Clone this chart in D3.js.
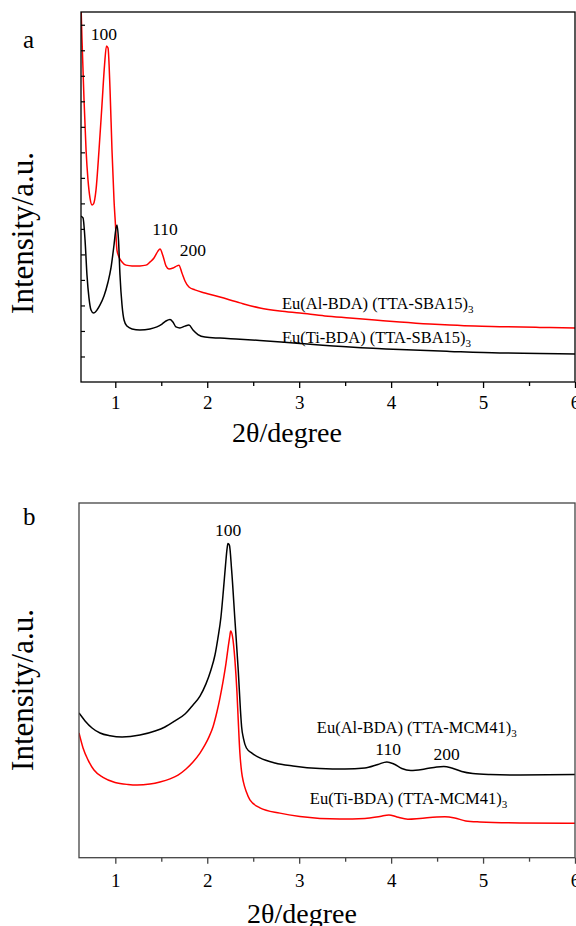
<!DOCTYPE html>
<html>
<head>
<meta charset="utf-8">
<script src="https://cdn.jsdelivr.net/npm/d3@7"></script>
<style>
  html, body { margin: 0; padding: 0; background: #fff; }
  svg { display: block; }
  text { font-family: "Liberation Serif", "Times New Roman", Times, serif; fill: #000; }
</style>
</head>
<body>
<svg id="chart" width="576" height="926"></svg>
<script>
// ---------- (a) SBA-15 hybrids: small-angle XRD ----------
const sbaAlTheta = [0.627, 0.638, 0.660, 0.682, 0.703, 0.725, 0.747, 0.763, 0.790, 0.823, 0.855, 0.883, 0.904, 0.921, 0.943, 0.964, 0.986, 1.002, 1.018, 1.040, 1.073, 1.116, 1.182, 1.268, 1.334, 1.377, 1.421, 1.464, 1.486, 1.519, 1.551, 1.584, 1.628, 1.671, 1.692, 1.725, 1.758, 1.801, 1.866, 1.975, 2.138, 2.356, 2.573, 2.790, 3.008, 3.279, 3.551, 3.823, 4.095, 4.421, 4.638, 4.910, 5.181, 5.616, 6.000];
const sbaAlCounts = [1477, 1340, 1105, 909, 792, 721, 694, 698, 752, 909, 1085, 1242, 1317, 1309, 1144, 909, 713, 615, 517, 490, 470, 458, 455, 455, 458, 470, 486, 513, 521, 494, 455, 443, 447, 455, 458, 427, 396, 372, 361, 349, 333, 310, 290, 278, 270, 259, 251, 243, 235, 227, 223, 219, 217, 214, 212];

const sbaTiTheta = [0.627, 0.649, 0.671, 0.692, 0.714, 0.736, 0.763, 0.801, 0.834, 0.877, 0.921, 0.953, 0.986, 1.008, 1.018, 1.035, 1.051, 1.073, 1.095, 1.127, 1.182, 1.268, 1.377, 1.453, 1.508, 1.551, 1.595, 1.627, 1.660, 1.703, 1.758, 1.801, 1.845, 1.899, 1.975, 2.138, 2.356, 2.573, 3.008, 3.551, 4.095, 4.638, 5.181, 5.616, 6.000];
const sbaTiCounts = [650, 643, 556, 419, 329, 282, 270, 282, 302, 337, 392, 447, 537, 603, 615, 556, 419, 302, 243, 219, 208, 204, 208, 216, 227, 239, 245, 235, 216, 212, 219, 223, 204, 186, 176, 172, 168, 163, 151, 137, 127, 120, 114, 112, 110];

// ---------- (b) MCM-41 hybrids: small-angle XRD ----------
const mcmAlTheta = [0.605, 0.671, 0.747, 0.834, 0.943, 1.073, 1.268, 1.432, 1.540, 1.649, 1.758, 1.845, 1.921, 1.986, 2.040, 2.084, 2.116, 2.149, 2.176, 2.198, 2.214, 2.225, 2.241, 2.265, 2.301, 2.337, 2.361, 2.374, 2.393, 2.426, 2.486, 2.573, 2.736, 2.932, 3.225, 3.497, 3.714, 3.856, 3.953, 4.029, 4.116, 4.214, 4.366, 4.497, 4.573, 4.660, 4.768, 4.888, 5.073, 5.399, 6.000];
const mcmAlCounts = [571, 540, 512, 492, 481, 476, 484, 500, 516, 540, 567, 603, 638, 686, 741, 800, 867, 950, 1057, 1152, 1215, 1240, 1234, 1136, 938, 741, 583, 516, 472, 433, 413, 394, 374, 362, 352, 350, 354, 368, 378, 370, 352, 344, 350, 358, 360, 354, 340, 332, 328, 326, 328];

const mcmTiTheta = [0.605, 0.649, 0.703, 0.768, 0.866, 0.997, 1.138, 1.236, 1.377, 1.486, 1.595, 1.682, 1.769, 1.845, 1.921, 1.975, 2.018, 2.062, 2.105, 2.138, 2.171, 2.203, 2.231, 2.247, 2.254, 2.274, 2.301, 2.323, 2.337, 2.355, 2.374, 2.393, 2.426, 2.464, 2.573, 2.790, 3.008, 3.443, 3.715, 3.878, 3.976, 4.063, 4.182, 4.312, 4.497, 4.584, 4.692, 4.812, 4.964, 5.399, 6.000];
const mcmTiCounts = [492, 433, 386, 346, 317, 297, 289, 287, 291, 299, 311, 326, 350, 378, 413, 445, 476, 516, 575, 630, 694, 765, 840, 879, 895, 875, 780, 654, 543, 413, 338, 299, 259, 228, 197, 176, 163, 153, 155, 163, 169, 161, 152, 155, 161, 162, 157, 145, 141, 137, 136];

// axis ticks
const majorTicks = [1, 2, 3, 4, 5, 6];
const minorTicks = [1.5, 2.5, 3.5, 4.5, 5.5];
const sbaYTicks = [100, 200, 300, 400, 500, 600, 700, 800, 900, 1000, 1100, 1200, 1300, 1400];

const svg = d3.select("#chart");

function zip(xs, ys) { return xs.map((x, i) => ({ x, y: ys[i] })); }

function panel(cfg) {
  const g = svg.append("g");
  const x = d3.scaleLinear().domain(cfg.xDomain).range([cfg.left, cfg.right]);
  const y = d3.scaleLinear().domain(cfg.yDomain).range([cfg.bottom, cfg.top]);

  const clipId = "clip-" + cfg.id;
  svg.append("clipPath").attr("id", clipId)
    .append("rect")
    .attr("x", cfg.left).attr("y", cfg.top)
    .attr("width", cfg.right - cfg.left).attr("height", cfg.bottom - cfg.top);

  const line = d3.line().x(d => x(d.x)).y(d => y(d.y)).curve(d3.curveMonotoneX);

  const plot = g.append("g").attr("clip-path", `url(#${clipId})`);
  cfg.series.forEach(s => {
    plot.append("path")
      .datum(zip(s.theta, s.counts))
      .attr("d", line)
      .attr("fill", "none")
      .attr("stroke", s.color)
      .attr("stroke-width", 1.5)
      .attr("stroke-linejoin", "round");
  });

  // frame
  g.append("rect")
    .attr("x", cfg.left).attr("y", cfg.top)
    .attr("width", cfg.right - cfg.left).attr("height", cfg.bottom - cfg.top)
    .attr("fill", "none").attr("stroke", cfg.frameColor).attr("stroke-width", 1.3);

  // bottom axis: labelled majors, short minors
  const xAxis = g.append("g").attr("transform", `translate(0,${cfg.bottom})`)
    .call(d3.axisBottom(x).tickValues(majorTicks).tickSize(6).tickFormat(d3.format("d")));
  xAxis.select(".domain").remove();
  xAxis.selectAll("line").attr("stroke", cfg.frameColor).attr("stroke-width", 1.3);
  xAxis.selectAll("text")
    .attr("y", cfg.tickLabelOffset).attr("dy", 0)
    .attr("fill", "#000")
    .style("font-size", "19px");

  const xMinor = g.append("g").attr("transform", `translate(0,${cfg.bottom})`)
    .call(d3.axisBottom(x).tickValues(minorTicks).tickSize(4).tickFormat(""));
  xMinor.select(".domain").remove();
  xMinor.selectAll("line").attr("stroke", cfg.frameColor).attr("stroke-width", 1.3);

  if (cfg.yTicks) {
    const yAxis = g.append("g").attr("transform", `translate(${cfg.left},0)`)
      .call(d3.axisLeft(y).tickValues(cfg.yTicks).tickSize(-4).tickFormat(""));
    yAxis.select(".domain").remove();
    yAxis.selectAll("line").attr("stroke", cfg.frameColor).attr("stroke-width", 1.2);
  }

  // axis titles
  g.append("text")
    .attr("x", cfg.xTitleX).attr("y", cfg.xTitleY)
    .attr("text-anchor", "middle")
    .style("font-size", "28px")
    .text("2θ/degree");

  g.append("text")
    .attr("transform", `translate(${cfg.yTitleX},${cfg.yTitleY}) rotate(-90)`)
    .attr("text-anchor", "middle")
    .style("font-size", "31px")
    .text("Intensity/a.u.");

  g.append("text")
    .attr("x", 23).attr("y", cfg.letterY)
    .style("font-size", "25px")
    .text(cfg.letter);

  // reflection indices
  cfg.peaks.forEach(p => {
    g.append("text")
      .attr("x", x(p.x)).attr("y", y(p.y))
      .attr("text-anchor", "middle")
      .style("font-size", "17.5px")
      .text(p.hkl);
  });

  // sample names with subscript
  cfg.names.forEach(n => {
    const t = g.append("text")
      .attr("x", x(n.x)).attr("y", y(n.y))
      .style("font-size", "16.5px");
    t.append("tspan").text(n.text);
    t.append("tspan").attr("dy", 4).style("font-size", "11px").text("3");
  });
}

panel({
  id: "a", letter: "a", letterY: 48,
  left: 81, right: 575, top: 12, bottom: 382,
  xDomain: [0.627, 6], yDomain: [0, 1450],
  frameColor: "#000",
  tickLabelOffset: 27,
  xTitleX: 287, xTitleY: 442,
  yTitleX: 33, yTitleY: 233,
  yTicks: sbaYTicks,
  series: [
    { theta: sbaAlTheta, counts: sbaAlCounts, color: "#ff0000" },
    { theta: sbaTiTheta, counts: sbaTiCounts, color: "#000000" }
  ],
  peaks: [
    { hkl: "100", x: 0.877, y: 1340 },
    { hkl: "110", x: 1.540, y: 576 },
    { hkl: "200", x: 1.845, y: 494 }
  ],
  names: [
    { text: "Eu(Al-BDA) (TTA-SBA15)", x: 2.812, y: 286 },
    { text: "Eu(Ti-BDA) (TTA-SBA15)", x: 2.812, y: 153 }
  ]
});

panel({
  id: "b", letter: "b", letterY: 525,
  left: 79, right: 575, top: 503, bottom: 857.7,
  xDomain: [0.605, 6], yDomain: [0, 1400],
  frameColor: "#444",
  tickLabelOffset: 29,
  xTitleX: 302, xTitleY: 923,
  yTitleX: 33, yTitleY: 690,
  yTicks: null,
  series: [
    { theta: mcmAlTheta, counts: mcmAlCounts, color: "#000000" },
    { theta: mcmTiTheta, counts: mcmTiCounts, color: "#ff0000" }
  ],
  peaks: [
    { hkl: "100", x: 2.228, y: 1270 },
    { hkl: "110", x: 3.967, y: 405 },
    { hkl: "200", x: 4.605, y: 386 }
  ],
  names: [
    { text: "Eu(Al-BDA) (TTA-MCM41)", x: 3.192, y: 491 },
    { text: "Eu(Ti-BDA) (TTA-MCM41)", x: 3.116, y: 212 }
  ]
});
</script>
</body>
</html>
